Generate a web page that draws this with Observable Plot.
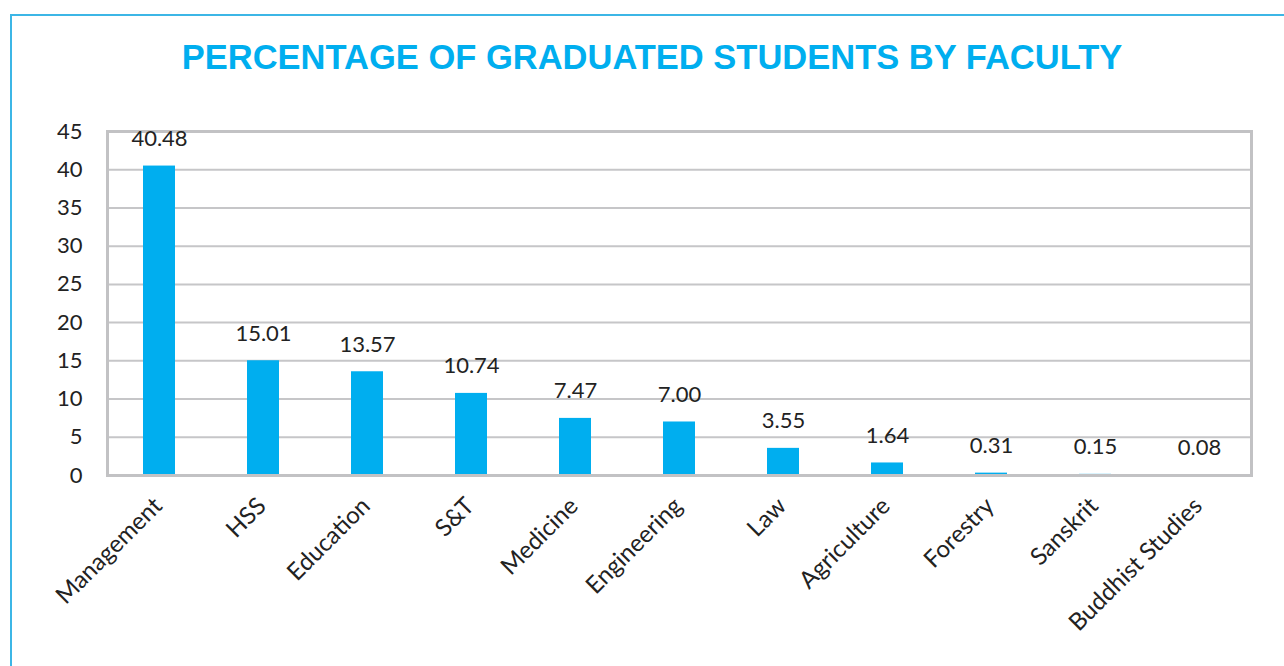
<!DOCTYPE html>
<html>
<head>
<meta charset="utf-8">
<script src="https://cdn.jsdelivr.net/npm/d3@7"></script>
<script src="https://cdn.jsdelivr.net/npm/@observablehq/plot@0.6"></script>
<style>
  html, body { margin: 0; padding: 0; background: #fff; width: 1284px; height: 666px; overflow: hidden; }
  #wrap { position: relative; width: 1284px; height: 666px; }
  #border { position: absolute; left: 10px; top: 14px; width: 1400px; height: 800px; border-left: 2px solid #3cb6e6; border-top: 2px solid #3cb6e6; }
  #title { position: absolute; left: 0; top: 37px; width: 1304px; text-align: center; font-family: "Liberation Sans", Arial, sans-serif; font-weight: bold; font-size: 34.5px; line-height: 40px; color: #00aeef; }
  #chart { position: absolute; left: 0; top: 100px; }
</style>
</head>
<body>
<div id="wrap">
  <div id="border"></div>
  <div id="title">PERCENTAGE OF GRADUATED STUDENTS BY FACULTY</div>
  <div id="chart"></div>
</div>
<script>
const faculties = ["Management", "HSS", "Education", "S&T", "Medicine", "Engineering", "Law", "Agriculture", "Forestry", "Sanskrit", "Buddhist Studies"];
const percentages = [40.48, 15.01, 13.57, 10.74, 7.47, 7.00, 3.55, 1.64, 0.31, 0.15, 0.08];
const yTicks = [0, 5, 10, 15, 20, 25, 30, 35, 40, 45];

const data = faculties.map((f, i) => ({faculty: f, value: percentages[i]}));
const font = "Lato, 'Open Sans', sans-serif";

const chart = Plot.plot({
  width: 1284,
  height: 566,
  marginLeft: 107,
  marginRight: 33,
  marginTop: 31,
  marginBottom: 191,
  style: {fontFamily: font, fontSize: "22px", color: "#222", background: "transparent"},
  x: {domain: faculties, paddingInner: 0.69, paddingOuter: 0.345, axis: null},
  y: {domain: [0, 45], ticks: yTicks, axis: null},
  marks: [
    Plot.ruleY(yTicks.filter(t => t > 0 && t < 45), {stroke: "#c6c6c8", strokeWidth: 2}),
    Plot.barY(data, {x: "faculty", y: "value", fill: "#00aeef"}),
    Plot.frame({stroke: "#c2c2c4", strokeWidth: 3}),
    Plot.axisY(yTicks, {tickSize: 0, tickPadding: 25, fontSize: 22, fill: "#222", label: null}),
    Plot.text(data, {x: "faculty", y: "value", text: d => d.value.toFixed(2), dy: -27, fontSize: 22, fill: "#222"}),
    Plot.text(data, {x: "faculty", frameAnchor: "bottom", text: "faculty", rotate: -45, textAnchor: "end", dx: 4, dy: 32, fontSize: 24, fill: "#222"})
  ]
});
document.getElementById("chart").appendChild(chart);
</script>
</body>
</html>
